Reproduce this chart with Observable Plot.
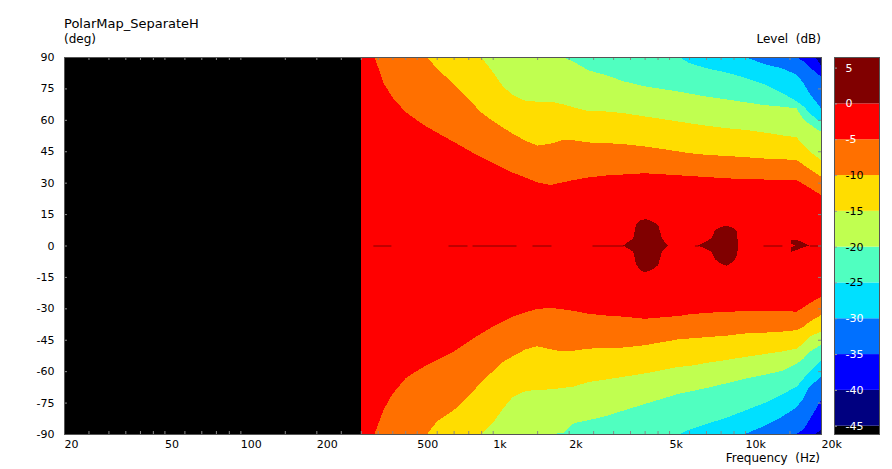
<!DOCTYPE html>
<html><head><meta charset="utf-8">
<script src="https://cdn.jsdelivr.net/npm/d3@7"></script>
<script src="https://cdn.jsdelivr.net/npm/@observablehq/plot@0.6"></script>
<style>
body{margin:0;background:#fff;}
#wrap{position:relative;width:892px;height:469px;font-family:"DejaVu Sans",Verdana,sans-serif;color:#000;overflow:hidden;}
.lbl{position:absolute;white-space:pre;line-height:1;}
#wrap svg{position:absolute;}
</style></head><body>
<div id="wrap">
<div class="lbl" style="left:64px;top:17px;font-size:13px">PolarMap_SeparateH</div>
<div class="lbl" style="left:64px;top:33px;font-size:12px">(deg)</div>
<div class="lbl" style="right:71px;top:33px;font-size:12px">Level  (dB)</div>
<div class="lbl" style="right:72px;top:452px;font-size:12px">Frequency  (Hz)</div>
</div>
<script>
// ---- data: contour boundaries (deg) at each frequency (Hz) ----
const freqs = [300, 340, 370, 400, 450, 500, 550, 600, 700, 800, 900, 1000, 1100, 1200, 1350, 1500, 1700, 1900, 2100, 2400, 2800, 3300, 4000, 5000, 5500, 6000, 7000, 8500, 10000, 12000, 14000, 16000, 17000, 18000, 19000, 20000];

const top5 = [90, 90, 77.4, 70.8, 63.9, 59.9, 56.6, 54.0, 49.5, 45.5, 42.1, 39.4, 36.9, 34.8, 32.4, 30.2, 28.9, 30.2, 31.3, 32.5, 33.4, 33.9, 34.5, 33.8, 33.5, 33.2, 32.7, 32.1, 31.6, 31.5, 31.4, 31.3, 29.4, 27.6, 25.8, 24.1];
const bot5 = [-90, -90, -78.3, -71.0, -63.6, -59.9, -57.0, -54.7, -50.6, -46.0, -42.0, -38.8, -36.3, -34.0, -31.9, -30.3, -29.8, -30.5, -31.2, -32.6, -33.4, -34.0, -35.0, -34.0, -33.6, -32.9, -32.2, -31.6, -31.4, -31.1, -31.3, -31.6, -29.6, -27.6, -26.0, -24.5];

const top10 = [90, 90, 90, 90, 90, 90, 90, 84.6, 77.1, 70.1, 63.5, 59.5, 56.2, 53.4, 50.0, 47.7, 48.6, 50.4, 50.2, 49.2, 48.9, 48.4, 47.3, 45.6, 44.8, 44.1, 43.3, 42.7, 42.2, 41.5, 41.2, 40.8, 38.6, 36.5, 34.6, 32.9];
const bot10 = [-90, -90, -90, -90, -90, -90, -90, -84.1, -78.7, -72.2, -65.3, -60.1, -55.5, -52.9, -49.6, -48.1, -49.6, -50.6, -50.2, -49.2, -49.1, -48.7, -47.6, -45.6, -44.6, -44.4, -43.8, -43.0, -42.0, -41.6, -41.1, -40.4, -39.0, -36.4, -34.8, -33.2];

const top15 = [90, 90, 90, 90, 90, 90, 90, 90, 90, 90, 90, 82.9, 75.8, 71.9, 69.0, 68.7, 68.7, 67.4, 65.9, 64.1, 64.0, 63.2, 61.6, 59.9, 59.1, 58.4, 57.2, 56.0, 55.2, 53.9, 52.6, 51.7, 48.0, 45.0, 42.8, 40.8];
const bot15 = [-90, -90, -90, -90, -90, -90, -90, -90, -90, -90, -90, -84.8, -77.8, -72.3, -69.5, -68.9, -68.7, -68.0, -67.3, -65.2, -64.0, -62.7, -61.1, -58.8, -57.9, -57.6, -56.1, -54.6, -53.2, -51.8, -50.6, -49.3, -46.8, -43.5, -42.3, -41.2];

const top20 = [90, 90, 90, 90, 90, 90, 90, 90, 90, 90, 90, 90, 90, 90, 90, 90, 90, 90, 87.6, 83.6, 81.4, 78.4, 76.0, 74.2, 73.4, 72.6, 71.1, 69.7, 68.4, 67.0, 66.3, 65.5, 60.3, 58.0, 56.0, 54.3];
const bot20 = [-90, -90, -90, -90, -90, -90, -90, -90, -90, -90, -90, -90, -90, -90, -90, -90, -90, -89.5, -84.8, -83.4, -81.5, -78.8, -75.7, -72.2, -70.7, -69.8, -68.1, -65.7, -63.6, -61.7, -59.9, -56.4, -54.2, -50.7, -49.1, -47.5];

const top25 = [90, 90, 90, 90, 90, 90, 90, 90, 90, 90, 90, 90, 90, 90, 90, 90, 90, 90, 90, 90, 90, 90, 90, 90, 90, 87.1, 84.7, 82.5, 80.1, 76.9, 72.9, 68.9, 66.6, 63.4, 60.8, 59.1];
const bot25 = [-90, -90, -90, -90, -90, -90, -90, -90, -90, -90, -90, -90, -90, -90, -90, -90, -90, -90, -90, -90, -90, -90, -90, -90, -90, -88.0, -85.3, -82.1, -78.8, -75.1, -71.1, -67.5, -63.7, -60.3, -57.4, -54.7];

const top30 = [90, 90, 90, 90, 90, 90, 90, 90, 90, 90, 90, 90, 90, 90, 90, 90, 90, 90, 90, 90, 90, 90, 90, 90, 90, 90, 90, 90, 90, 86.5, 84.6, 81.6, 77.8, 72.7, 69.0, 65.5];
const bot30 = [-90, -90, -90, -90, -90, -90, -90, -90, -90, -90, -90, -90, -90, -90, -90, -90, -90, -90, -90, -90, -90, -90, -90, -90, -90, -90, -90, -90, -90, -86.0, -81.8, -77.3, -73.1, -67.4, -65.0, -62.7];

const top35 = [90, 90, 90, 90, 90, 90, 90, 90, 90, 90, 90, 90, 90, 90, 90, 90, 90, 90, 90, 90, 90, 90, 90, 90, 90, 90, 90, 90, 90, 90, 90, 90, 88.0, 85.2, 82.8, 80.6];
const bot35 = [-90, -90, -90, -90, -90, -90, -90, -90, -90, -90, -90, -90, -90, -90, -90, -90, -90, -90, -90, -90, -90, -90, -90, -90, -90, -90, -90, -90, -90, -90, -90, -90, -88.0, -83.3, -78.5, -73.8];

const top40 = [90, 90, 90, 90, 90, 90, 90, 90, 90, 90, 90, 90, 90, 90, 90, 90, 90, 90, 90, 90, 90, 90, 90, 90, 90, 90, 90, 90, 90, 90, 90, 90, 90, 90, 90, 86.0];
const bot40 = [-90, -90, -90, -90, -90, -90, -90, -90, -90, -90, -90, -90, -90, -90, -90, -90, -90, -90, -90, -90, -90, -90, -90, -90, -90, -90, -90, -90, -90, -90, -90, -90, -90, -90, -90, -88.0];

// > 0 dB islands on axis
const blob1Freq = [3290, 3606, 3700, 3850, 4020, 4250, 4530, 4680, 4930];
const blob1Top  = [0, 3.4, 10.0, 12.0, 12.6, 11.8, 9.8, 3.4, 0];
const blob1Bot  = [0, -3.0, -9.0, -11.8, -12.8, -11.8, -9.3, -3.0, 0];
const blob2Freq = [6530, 7370, 7600, 8000, 8460, 9000, 9270, 9400];
const blob2Top  = [0, 3.4, 7.4, 8.8, 9.4, 8.3, 6.6, 0];
const blob2Bot  = [0, -3.0, -6.5, -8.5, -9.7, -7.5, -5.0, 0];
const blob3Freq = [15180, 15750, 16500, 18000];
const blob3UpTop = [2.4, 2.6, 2.2, 0];
const blob3UpBot = [1.0, 0, 0, 0];
const blob3LoTop = [-1.0, 0, 0, 0];
const blob3LoBot = [-3.0, -2.4, -1.5, 0];
const lineStart = [335, 665, 828, 1431, 2474, 6300, 11780, 18000];
const lineEnd   = [395, 791, 1237, 1702, 3290, 6530, 14000, 20000];

// scale / legend definitions
const levelNames  = ["-40", "-35", "-30", "-25", "-20", "-15", "-10", "-5"];
const levelColors = ["#0000ff", "#0070ff", "#00e0ff", "#50ffc0", "#c0ff50", "#ffdd00", "#ff7000", "#ff0000"];
const floorColor = "#000080";
const peakColor = "#800000";
const freqTickValues = [20, 50, 100, 200, 500, 1000, 2000, 5000, 10000, 20000];
const freqTickLabels = ["20", "50", "100", "200", "500", "1k", "2k", "5k", "10k", "20k"];
const freqMinor = [25, 30, 35, 40, 45, 50, 60, 70, 80, 90, 100, 150, 200, 250, 300, 350, 400, 450, 500, 600, 700, 800, 900, 1000, 1500, 2000, 2500, 3000, 3500, 4000, 4500, 5000, 6000, 7000, 8000, 9000, 10000, 15000];
const degTicks = [-90, -75, -60, -45, -30, -15, 0, 15, 30, 45, 60, 75, 90];
const barLo = [-46.16, -45, -40, -35, -30, -25, -20, -15, -10, -5, 0];
const barHi = [-45, -40, -35, -30, -25, -20, -15, -10, -5, 0, 6.48];
const barColors = ["#000000", "#000080", "#0000ff", "#0070ff", "#00e0ff", "#50ffc0", "#c0ff50", "#ffdd00", "#ff7000", "#ff0000", "#800000"];
const barLabelsWhite = [5, 0, -5, -30, -35, -40, -45];
const barLabelsBlack = [-10, -15, -20, -25];
const barTicks = [5, 0, -5, -10, -15, -20, -25, -30, -35, -40, -45];

// ---- build ----
const rows = (f, lo, hi) => f.map((x, i) => ({f: x, lo: lo[i], hi: hi[i]}));
const bounds = [[bot40, top40], [bot35, top35], [bot30, top30], [bot25, top25], [bot20, top20], [bot15, top15], [bot10, top10], [bot5, top5]];
const areaOpts = (fill) => ({x: "f", y1: "lo", y2: "hi", fill, curve: "linear", shapeRendering: "crispEdges"});
const freqLabelRows = freqTickValues.map((v, i) => ({v, t: freqTickLabels[i]}));

const main = Plot.plot({
  width: 892, height: 469,
  marginLeft: 64, marginRight: 71, marginTop: 57, marginBottom: 35,
  x: {type: "log", domain: [20, 20000], axis: null},
  y: {domain: [-90, 90], axis: null},
  style: {fontFamily: "DejaVu Sans, Verdana, sans-serif", fontSize: "11px", background: "transparent", overflow: "visible"},
  marks: [
    Plot.frame({fill: "#000000"}),
    Plot.areaY(freqs, {x: d => d, y1: () => -90, y2: () => 90, fill: floorColor, shapeRendering: "crispEdges"}),
    ...bounds.map((b, k) => Plot.areaY(rows(freqs, b[0], b[1]), areaOpts(levelColors[k]))),
    Plot.areaY(rows(blob1Freq, blob1Bot, blob1Top), areaOpts(peakColor)),
    Plot.areaY(rows(blob2Freq, blob2Bot, blob2Top), areaOpts(peakColor)),
    Plot.areaY(rows(blob3Freq, blob3UpBot, blob3UpTop), areaOpts(peakColor)),
    Plot.areaY(rows(blob3Freq, blob3LoBot, blob3LoTop), areaOpts(peakColor)),
    Plot.link(lineStart.map((s, i) => ({a: s, b: lineEnd[i]})), {x1: "a", x2: "b", y1: () => 0, y2: () => 0, stroke: peakColor, strokeWidth: 1}),
    Plot.tickX(freqMinor, {x: d => d, insetTop: 374, stroke: "#888888"}),
    Plot.tickX(freqMinor, {x: d => d, insetBottom: 374, stroke: "#888888"}),
    Plot.tickY(degTicks, {y: d => d, insetRight: 754, stroke: "#888888"}),
    Plot.tickY(degTicks, {y: d => d, insetLeft: 754, stroke: "#888888"}),
    Plot.frame({stroke: "#555555"}),
    Plot.text(freqLabelRows, {x: "v", text: "t", frameAnchor: "bottom", dy: 6, lineAnchor: "top", textAnchor: "start", fill: "#000000"}),
    Plot.text(degTicks, {y: d => d, text: d => String(d), frameAnchor: "left", dx: -10, textAnchor: "end", fill: "#000000"})
  ]
});
main.style.left = "0px"; main.style.top = "0px";
document.getElementById("wrap").appendChild(main);

const bar = Plot.plot({
  width: 45, height: 377, margin: 0,
  y: {domain: [-46.16, 6.48], axis: null},
  color: {type: "identity"},
  style: {fontFamily: "DejaVu Sans, Verdana, sans-serif", fontSize: "11px", background: "transparent", overflow: "visible"},
  marks: [
    Plot.rect(barLo.map((lo, i) => ({lo, hi: barHi[i], c: barColors[i]})), {y1: "lo", y2: "hi", fill: "c"}),
    Plot.tickY(barTicks, {y: d => d, insetRight: 42, stroke: "#999999"}),
    Plot.text(barLabelsWhite, {y: d => d, text: d => String(d), frameAnchor: "left", dx: 11, textAnchor: "start", fill: "#ffffff"}),
    Plot.text(barLabelsBlack, {y: d => d, text: d => String(d), frameAnchor: "left", dx: 11, textAnchor: "start", fill: "#000000"}),
    Plot.frame({stroke: "#555555"})
  ]
});
bar.style.left = "834px"; bar.style.top = "57px";
document.getElementById("wrap").appendChild(bar);
</script>
</body></html>
